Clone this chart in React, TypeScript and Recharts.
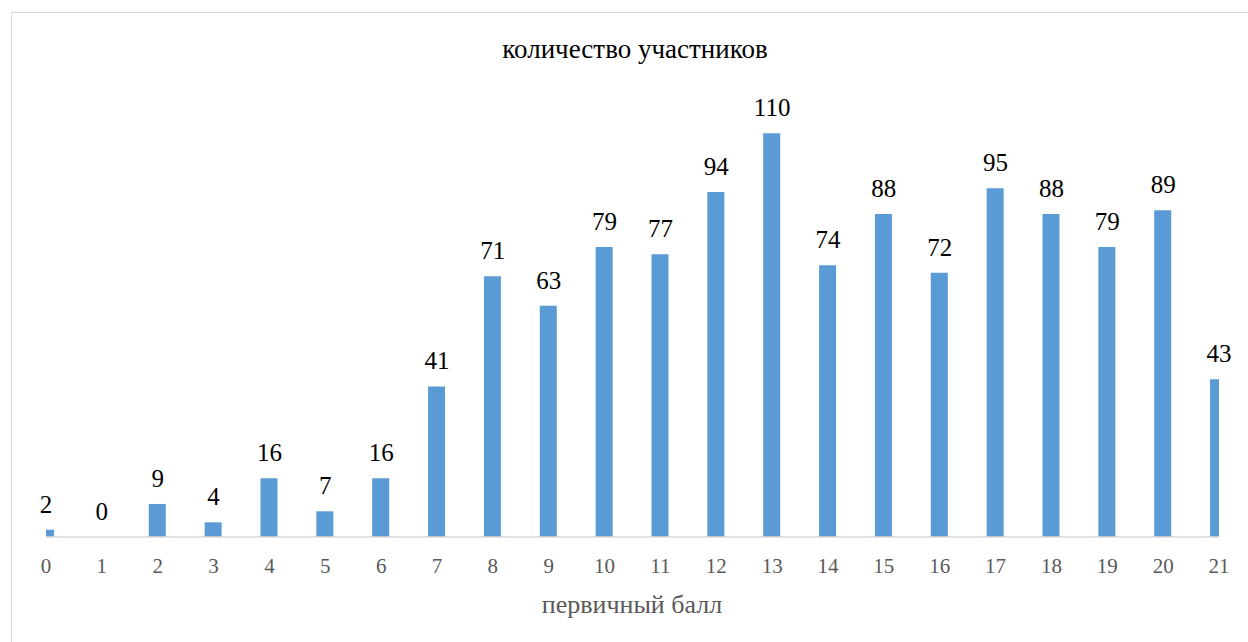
import { Bar, ComposedChart, LabelList, Line, XAxis, YAxis } from "recharts";

// первичный балл → количество участников
const scores = [0, 1, 2, 3, 4, 5, 6, 7, 8, 9, 10, 11, 12, 13, 14, 15, 16, 17, 18, 19, 20, 21];
const counts = [2, 0, 9, 4, 16, 7, 16, 41, 71, 63, 79, 77, 94, 110, 74, 88, 72, 95, 88, 79, 89, 43];
const yDomain = [0, 120];

const title = "количество участников";
const xLabel = "первичный балл";

const FONT = "'Liberation Serif', 'Times New Roman', serif";
const BAR = "#5b9bd5";

export default function App() {
  const data = scores.map((s, i) => ({ score: s, value: counts[i] }));

  return (
    <div
      style={{
        position: "absolute",
        left: 11,
        top: 12,
        width: 1250,
        height: 640,
        border: "1px solid #d9d9d9",
        boxSizing: "border-box",
        background: "#fff",
        fontFamily: FONT,
      }}
    >
      <ComposedChart
        width={1236}
        height={628}
        data={data}
        margin={{ top: 83.5, right: 29, bottom: 44, left: 34 }}
      >
        <XAxis
          dataKey="score"
          type="number"
          domain={[0, 21]}
          ticks={scores}
          interval={0}
          allowDataOverflow
          height={60}
          tickLine={false}
          tickSize={0}
          tickMargin={21}
          axisLine={{ stroke: "#d9d9d9", strokeWidth: 1.3 }}
          tick={{ fontSize: 21, fill: "#595959", fontFamily: FONT }}
        />
        <YAxis hide domain={yDomain} />
        <Bar dataKey="value" fill={BAR} barSize={17} isAnimationActive={false} />
        {/* invisible line only carries the value labels, so that 0 gets one too */}
        <Line
          dataKey="value"
          stroke="none"
          dot={false}
          activeDot={false}
          isAnimationActive={false}
        >
          <LabelList
            dataKey="value"
            position="top"
            offset={17}
            fill="#000"
            fontSize={25}
            fontFamily={FONT}
          />
        </Line>
        <text
          x={623}
          y={45.3}
          textAnchor="middle"
          fontSize={27}
          fontFamily={FONT}
          fill="#000"
        >
          {title}
        </text>
        <text
          x={620}
          y={600}
          textAnchor="middle"
          fontSize={26}
          fontFamily={FONT}
          fill="#595959"
        >
          {xLabel}
        </text>
      </ComposedChart>
    </div>
  );
}
